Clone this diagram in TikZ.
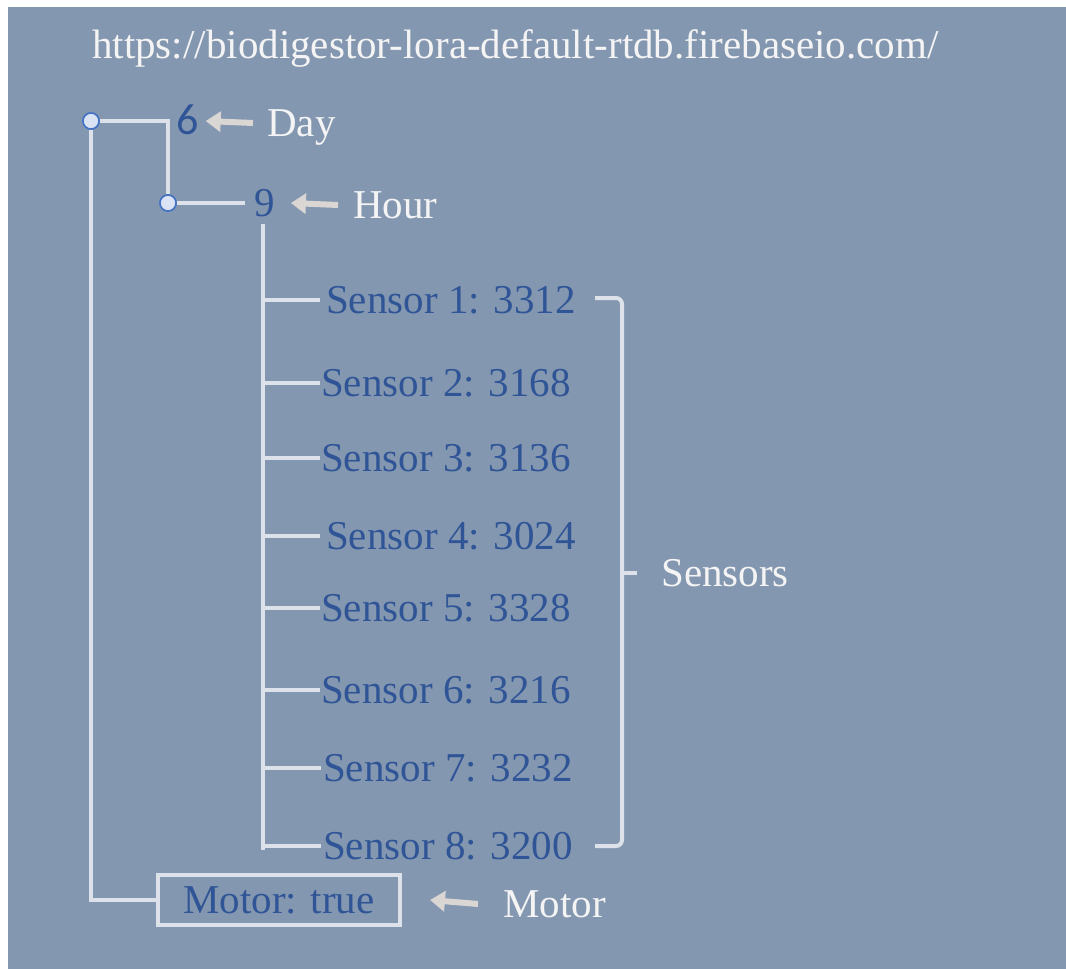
\documentclass[tikz,border=0pt]{standalone}
\usepackage{fontspec}
\setmainfont{Liberation Serif}
\newfontfamily\calfont{Carlito}
\usetikzlibrary{arrows.meta}
\definecolor{bgblue}{HTML}{8497B0}
\definecolor{dkblue}{HTML}{2F5597}
\definecolor{lightln}{HTML}{DDE2EA}
\definecolor{arrgray}{HTML}{D9D6D3}
\definecolor{wtext}{HTML}{F4F4F4}
\definecolor{cfill}{HTML}{DAE3F3}
\definecolor{cdraw}{HTML}{4472C4}
\tikzset{
  big/.style={font=\fontsize{41}{45}\selectfont},
  sensortxt/.style={big, text=dkblue, anchor=west, inner sep=0pt, text height=27.7pt, text depth=0pt},
  lbl/.style={big, text=wtext, anchor=west, inner sep=0pt, text height=27.7pt, text depth=0pt},
  conn/.style={draw=lightln, line width=4pt},
  dot/.style={circle, fill=cfill, draw=cdraw, line width=1.5pt, minimum size=16pt, inner sep=0pt},
  leftarr/.style={draw=arrgray, line width=6pt, -{Triangle[length=15pt,width=20pt]}},
  motorbox/.style={draw=lightln, line width=4pt, minimum width=242pt, minimum height=50pt, inner sep=0pt, big, text=dkblue}
}
\begin{document}
\begin{tikzpicture}[x=1pt,y=-1pt]
\useasboundingbox (0,0) rectangle (1066,969);
\fill[bgblue] (8,7) rectangle (1066,969);
% URL
\node[big, text=wtext, anchor=base west, inner sep=0pt] (url) at (92,58) {https://biodigestor-lora-default-rtdb.firebaseio.com/};
% day / hour
\node[dot] (c1) at (91,121) {};
\node[dot] (c2) at (168,203) {};
\node[anchor=west, inner sep=0pt, text=dkblue, font=\calfont\fontsize{44}{48}\selectfont, text height=27pt, text depth=0pt] (six) at (176,121) {6};
\node[anchor=west, inner sep=0pt, text=dkblue, big, text height=27.7pt, text depth=0pt] (nine) at (254,203) {9};
\node[lbl] (day) at (267,123) {Day};
\node[lbl] (hour) at (353,205) {Hour};
\coordinate (t0) at (263,224);
\coordinate (t1) at (263,850);
% sensors
\node[sensortxt] (s1) at (326,300) {Sensor 1: 3312};
\node[sensortxt] (s2) at (321,383) {Sensor 2: 3168};
\node[sensortxt] (s3) at (321,458) {Sensor 3: 3136};
\node[sensortxt] (s4) at (326,536) {Sensor 4: 3024};
\node[sensortxt] (s5) at (321,608) {Sensor 5: 3328};
\node[sensortxt] (s6) at (321,690) {Sensor 6: 3216};
\node[sensortxt] (s7) at (323,768) {Sensor 7: 3232};
\node[sensortxt] (s8) at (323,846) {Sensor 8: 3200};
% motor
\node[motorbox] (motor) at (279,900) {Motor: true};
\node[lbl] (motorlbl) at (503,904) {Motor};
\node[lbl] (sensors) at (661,573) {Sensors};
% bracket coordinates
\coordinate (bt) at (595,298);
\coordinate (bb) at (595,846);
\coordinate (bm) at (637,573);
% connectors
\draw[conn] (c1) -| (c2);
\draw[conn] (c2) -- ([xshift=-9pt]nine.west |- c2);
\draw[conn] (c1) |- (motor.west);
\draw[conn] (t0) -- (t1);
\draw[conn] (s1.west -| t0) -- ([xshift=-6pt]s1.west);
\foreach \s in {s2,s3,s5,s6} \draw[conn] (\s.west -| t0) -- ([xshift=-1pt]\s.west);
\draw[conn] (s4.west -| t0) -- ([xshift=-6pt]s4.west);
\draw[conn] (s7.west -| t0) -- ([xshift=-2pt]s7.west);
\draw[conn] (s8.west -| t0) -- ([xshift=-2pt]s8.west);
% bracket
\draw[conn, line cap=butt] (bt) -- (616,298) arc[start angle=-90, end angle=0, radius=6] -- (622,840) arc[start angle=0, end angle=90, radius=6] -- (bb);
\draw[conn] (622,573) -- (bm);
% arrows
\draw[leftarr] ([xshift=-14pt]day.west) -- ([xshift=7pt]six.east);
\draw[leftarr] ([xshift=-15pt]hour.west) -- ([xshift=16pt]nine.east);
\draw[leftarr] ([xshift=-25pt]motorlbl.west) -- ([xshift=28pt]motor.east);
% dots on top
\node[dot] at (c1) {};
\node[dot] at (c2) {};
\end{tikzpicture}
\end{document}
